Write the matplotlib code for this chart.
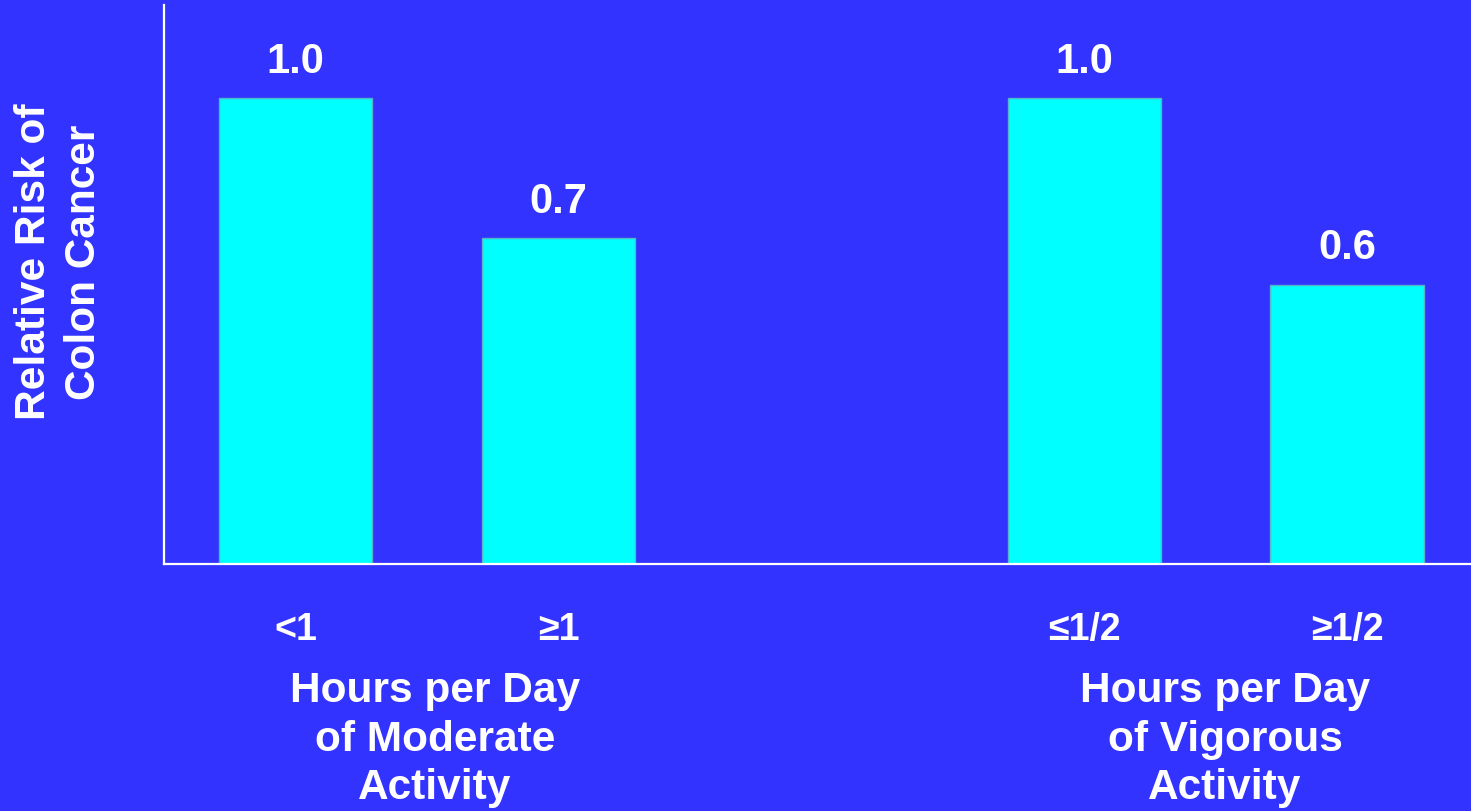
import matplotlib
matplotlib.use("Agg")
import matplotlib.pyplot as plt

# Relative risk of colon cancer by daily activity level
tick_labels = ["<1", "\u22651", "\u22641/2", "\u22651/2"]
risk = [1.0, 0.7, 1.0, 0.6]
value_labels = ["1.0", "0.7", "1.0", "0.6"]
group_labels = ["Hours per Day\nof Moderate\nActivity",
                "Hours per Day\nof Vigorous\nActivity"]
positions = [0, 1, 3, 4]

BG = "#3333FF"
BAR = "#00FFFF"
FONT = "Liberation Sans"

plt.rcParams["font.family"] = [FONT, "DejaVu Sans"]

fig = plt.figure(figsize=(14.71, 8.12), dpi=100, facecolor=BG)
ax = fig.add_axes([164 / 1471, (812 - 565) / 812, 1 - 164 / 1471, (565 - 6) / 812])
ax.set_facecolor(BG)

bars = ax.bar(positions, risk, width=0.585, color=BAR, edgecolor="#55B5C8", linewidth=1)
ax.set_xlim(-0.5, 4.47)
ax.set_ylim(0, 1.2)

for b, txt in zip(bars, value_labels):
    ax.annotate(txt, (b.get_x() + b.get_width() / 2, b.get_height()),
                xytext=(0, 19), textcoords="offset points",
                ha="center", va="baseline", color="white",
                fontsize=30, fontweight="bold")

ax.set_xticks(positions)
ax.set_xticklabels(tick_labels, color="white", fontsize=27, fontweight="bold")
ax.tick_params(axis="x", length=0, pad=33.5)
ax.set_yticks([])

for side in ["top", "right"]:
    ax.spines[side].set_visible(False)
for side in ["left", "bottom"]:
    ax.spines[side].set_color("white")
    ax.spines[side].set_linewidth(1.6)

# group captions below the tick labels
for x, txt in zip([0.53, 3.535], group_labels):
    ax.text(x, -0.19, txt, transform=ax.get_xaxis_transform(),
            ha="center", va="top", color="white", fontsize=30.5,
            fontweight="bold", linespacing=1.27)

fig.text(59 / 1471, 1 - 262 / 812, "Relative Risk of\nColon Cancer",
         rotation=90, ha="center", va="center", color="white",
         fontsize=30.5, fontweight="bold", linespacing=1.3)

fig.savefig("out.png", dpi=100, facecolor=BG)
